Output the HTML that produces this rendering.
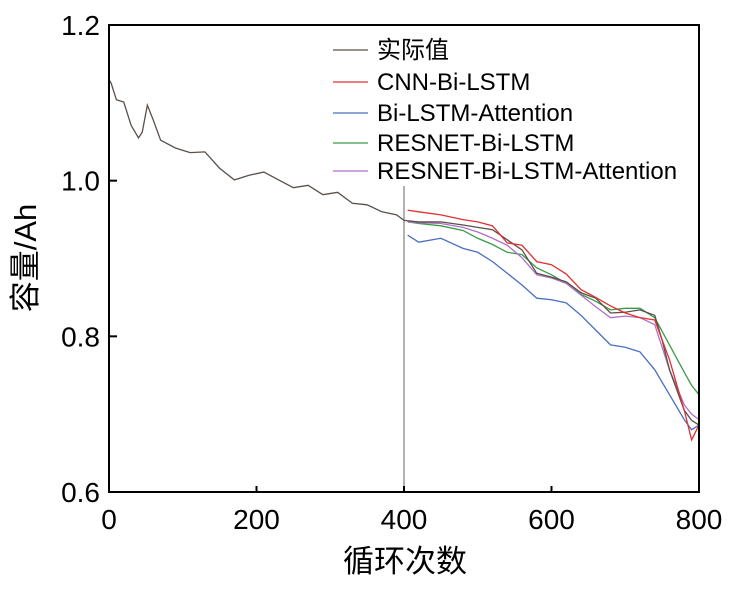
<!DOCTYPE html>
<html><head><meta charset="utf-8"><style>
body{margin:0;background:#fff;}
svg{display:block;font-family:"Liberation Sans","Noto Sans CJK SC",sans-serif;}
</style></head><body>
<svg id="c" width="734" height="590"></svg>
<script>
const cycles=[0,3,10,20,30,40,45,52,60,70,90,110,130,150,170,190,210,230,250,270,290,310,330,350,370,390,400,420,450,480,500,520,540,560,580,600,620,640,660,680,700,720,740,750,760,770,780,790,800];
const actual=[1.13,1.125,1.104,1.101,1.071,1.055,1.062,1.097,1.078,1.052,1.042,1.036,1.037,1.016,1.001,1.007,1.011,1.001,0.991,0.994,0.982,0.985,0.971,0.969,0.960,0.956,0.949,0.947,0.947,0.943,0.940,0.937,0.924,0.911,0.881,0.876,0.870,0.856,0.849,0.830,0.831,0.834,0.827,0.795,0.757,0.731,0.705,0.692,0.686];
const predCycles=[405,420,450,480,500,520,540,560,580,600,620,640,660,680,700,720,740,760,780,790,800];
const cnn=[0.962,0.960,0.956,0.950,0.947,0.942,0.920,0.917,0.896,0.892,0.880,0.860,0.850,0.839,0.830,0.824,0.821,0.770,0.705,0.667,0.686];
const attn=[0.930,0.921,0.926,0.913,0.908,0.896,0.881,0.866,0.849,0.847,0.843,0.827,0.808,0.789,0.786,0.780,0.757,0.725,0.693,0.680,0.686];
const resnet=[0.947,0.945,0.942,0.936,0.926,0.918,0.908,0.905,0.888,0.879,0.868,0.854,0.845,0.834,0.836,0.836,0.824,0.789,0.754,0.737,0.725];
const resAttn=[0.947,0.946,0.945,0.940,0.934,0.926,0.917,0.901,0.879,0.875,0.868,0.853,0.838,0.824,0.826,0.824,0.815,0.757,0.712,0.700,0.693];
const xTicks=[0,200,400,600,800];
const yTicks=[0.6,0.8,1.0,1.2];
const L=109,R=699,T=25,B=492;
const X=v=>L+(v/800)*(R-L);
const Y=c=>B-(c-0.6)/0.6*(B-T);
const svg=document.getElementById('c');
const NS='http://www.w3.org/2000/svg';
function mk(tag,attrs,parent){const e=document.createElementNS(NS,tag);for(const k in attrs)e.setAttribute(k,attrs[k]);(parent||svg).appendChild(e);return e;}
const divider=mk('line',{x1:X(400),x2:X(400),y1:186,y2:B,stroke:'#999','stroke-width':1.5});


function series(xs,ys,color,name){
  const p=mk('polyline',{points:xs.map((v,i)=>X(v)+','+Y(ys[i])).join(' '),fill:'none',stroke:color,'stroke-width':1.3});
  
  
}
series(predCycles,attn,'#4a6fc0','series-bi-lstm-attention');
series(predCycles,resnet,'#3a9a48','series-resnet-bi-lstm');
series(predCycles,resAttn,'#b070c8','series-resnet-bi-lstm-attention');
series(cycles,actual,'#5a4f4a','series-actual');
series(predCycles,cnn,'#e03030','series-cnn-bi-lstm');
const frame=mk('rect',{x:L,y:T,width:R-L,height:B-T,fill:'none',stroke:'#000','stroke-width':2});


xTicks.forEach(v=>{
  mk('line',{x1:X(v),x2:X(v),y1:B,y2:B-6,stroke:'#000','stroke-width':2});
  const t=mk('text',{x:X(v),y:529,'font-size':28,'text-anchor':'middle'});t.textContent=v;
  
  
});
yTicks.forEach(v=>{
  mk('line',{x1:L,x2:L+8,y1:Y(v),y2:Y(v),stroke:'#000','stroke-width':2});
  const t=mk('text',{x:100,y:Y(v)+10,'font-size':28,'text-anchor':'end'});t.textContent=v.toFixed(1);
  
  
});
const xt=mk('text',{x:405,y:572,'font-size':31,'text-anchor':'middle'});xt.textContent='循环次数';


const yt=mk('text',{x:0,y:0,'font-size':31,'text-anchor':'middle',transform:'translate(36,258) rotate(-90)'});yt.textContent='容量/Ah';


const legend=[['实际值','#5a4f4a',50],['CNN-Bi-LSTM','#e03030',82],['Bi-LSTM-Attention','#4a6fc0',113],['RESNET-Bi-LSTM','#3a9a48',143],['RESNET-Bi-LSTM-Attention','#b070c8',171]];
legend.forEach(([label,color,y])=>{
  const g=mk('g',{});
  
  
  mk('line',{x1:333,x2:368,y1:y,y2:y,stroke:color,'stroke-width':1.3},g);
  const t=mk('text',{x:377,y:y+8,'font-size':24,textLength:label.length>6?undefined:null},g);t.textContent=label;
  t.removeAttribute('textLength');
});
</script>
</body></html>
